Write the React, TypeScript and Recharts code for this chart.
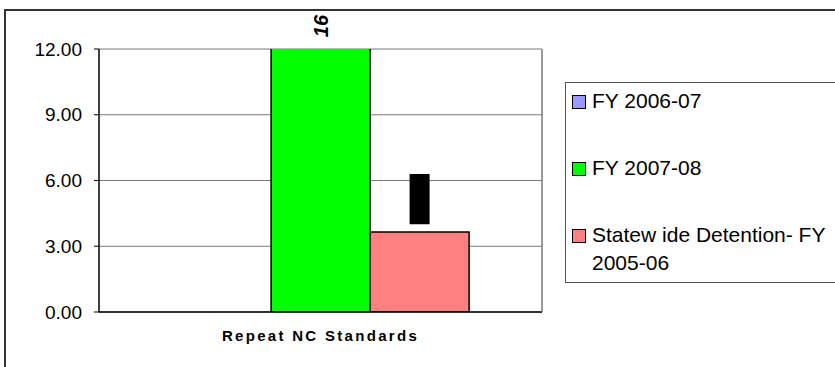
import React from 'react';
import {
  BarChart,
  Bar,
  XAxis,
  YAxis,
  CartesianGrid,
  ErrorBar,
  LabelList,
} from 'recharts';

// ---- data ----
const categories = ['Repeat NC Standards'];
const fy0607 = [0];
const fy0708 = [16];
const statewide0506 = [3.65];
const statewideRangeLow = [4.0];
const statewideRangeHigh = [6.3];
const yTicks = [0, 3, 6, 9, 12];

const seriesNames = ['FY 2006-07', 'FY 2007-08', 'Statew ide Detention- FY 2005-06'];
const seriesColors = ['#9999ff', '#00ff00', '#ff8080'];

const data = categories.map((name, i) => ({
  name,
  fy0607: fy0607[i],
  fy0708: fy0708[i],
  statewide: statewide0506[i],
  // error bar offsets relative to the bar value
  range: [statewide0506[i] - statewideRangeLow[i], statewideRangeHigh[i] - statewide0506[i]],
}));

const FONT = '"Liberation Sans", Arial, sans-serif';
const PLOT_TOP = 49;

const CategoryTick = (props: any) => {
  const { x, y, payload } = props;
  return (
    <text
      x={x}
      y={y + 21}
      textAnchor="middle"
      fontFamily={FONT}
      fontSize={15}
      fontWeight="bold"
      letterSpacing={2.3}
      fill="#000"
    >
      {payload.value}
    </text>
  );
};

const TopLabel = (props: any) => {
  const { x, y, width, value } = props;
  const cx = x + width / 2;
  const cy = Math.max(y, PLOT_TOP) - 23;
  return (
    <text
      x={cx}
      y={cy}
      transform={`rotate(-90, ${cx}, ${cy})`}
      textAnchor="middle"
      dominantBaseline="central"
      fontFamily={FONT}
      fontSize={20}
      fontWeight="bold"
      fontStyle="italic"
      fill="#000"
    >
      {value}
    </text>
  );
};

const ChartLegend = () => (
  <div
    style={{
      position: 'absolute',
      left: 565,
      top: 82,
      width: 300,
      height: 199,
      border: '1px solid #555',
      background: '#fff',
      fontFamily: FONT,
      fontSize: 21,
      color: '#000',
    }}
  >
    {seriesNames.map((name, i) => (
      <div
        key={name}
        style={{ position: 'absolute', left: 6, top: 4 + i * 67, display: 'flex', lineHeight: '28px' }}
      >
        <div
          style={{
            width: 12,
            height: 12,
            marginTop: 8,
            marginRight: 6,
            background: seriesColors[i],
            border: '1.5px solid #000',
            flexShrink: 0,
          }}
        />
        <div style={{ width: 245 }}>{name}</div>
      </div>
    ))}
  </div>
);

export default function App() {
  return (
    <div
      style={{
        position: 'absolute',
        left: 0,
        top: 0,
        width: 835,
        height: 367,
        overflow: 'hidden',
        background: '#fff',
      }}
    >
      <div
        style={{
          position: 'absolute',
          left: 4,
          top: 9,
          width: 900,
          height: 420,
          border: '2px solid #333',
        }}
      />
      <div style={{ position: 'absolute', left: 0, top: 0 }}>
        <BarChart
          width={835}
          height={367}
          data={data}
          barCategoryGap="16.5%"
          barGap={0}
          margin={{ top: PLOT_TOP, right: 292, left: 19, bottom: 15 }}
        >
          <CartesianGrid vertical={false} stroke="#7a7a7a" strokeWidth={1.2} yAxisId="left" />
          <XAxis
            dataKey="name"
            tick={<CategoryTick />}
            tickLine={false}
            axisLine={{ stroke: '#000', strokeWidth: 1.5 }}
            height={40}
          />
          <YAxis
            yAxisId="left"
            domain={[0, 12]}
            ticks={yTicks}
            allowDataOverflow
            width={80}
            tickFormatter={(v: number) => v.toFixed(2)}
            tick={{ fill: '#000', fontSize: 19, fontFamily: FONT }}
            tickLine={{ stroke: '#000' }}
            tickSize={5}
            tickMargin={12}
            axisLine={{ stroke: '#000', strokeWidth: 1.5 }}
          />
          <YAxis
            yAxisId="right"
            orientation="right"
            domain={[0, 12]}
            tick={false}
            tickLine={false}
            width={1}
            axisLine={{ stroke: '#7a7a7a', strokeWidth: 1.5 }}
          />
          <Bar
            yAxisId="left"
            dataKey="fy0607"
            name={seriesNames[0]}
            fill={seriesColors[0]}
            stroke="#000"
            strokeWidth={1.5}
            isAnimationActive={false}
          />
          <Bar
            yAxisId="left"
            dataKey="fy0708"
            name={seriesNames[1]}
            fill={seriesColors[1]}
            stroke="#000"
            strokeWidth={1.5}
            isAnimationActive={false}
          >
            <LabelList dataKey="fy0708" content={<TopLabel />} />
          </Bar>
          <Bar
            yAxisId="left"
            dataKey="statewide"
            name={seriesNames[2]}
            fill={seriesColors[2]}
            stroke="#000"
            strokeWidth={1.5}
            isAnimationActive={false}
          >
            <ErrorBar dataKey="range" width={0} stroke="#000" strokeWidth={20} direction="y" />
          </Bar>
        </BarChart>
      </div>
      <ChartLegend />
    </div>
  );
}
